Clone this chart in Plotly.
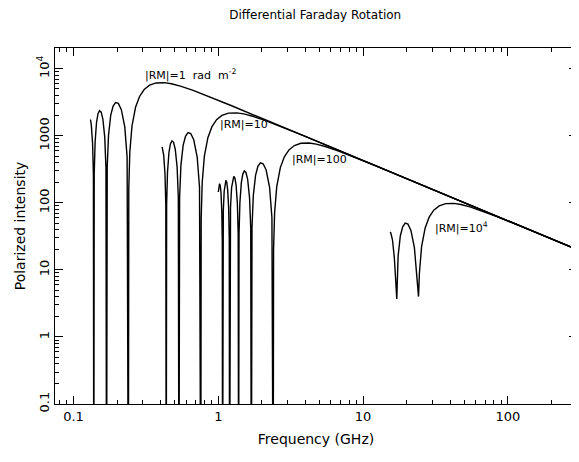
import math
import plotly.graph_objects as go

# ---- data (frequency in GHz, polarized intensity) ----
# near-zero values (1e-3) mark the depolarization nulls that drop below the axis
nu_rm1 = [0.1310, 0.1327, 0.1354, 0.1372, 0.1381,
          0.1390, 0.1410, 0.1442, 0.1476, 0.1513, 0.1552, 0.1595, 0.1643, 0.1675, 0.1691,
          0.1709, 0.1745, 0.1808, 0.1877, 0.1953, 0.2040, 0.2139, 0.2260, 0.2345, 0.2392,
          0.2408, 0.2448, 0.2534, 0.2682, 0.2858, 0.3076, 0.3352, 0.3719, 0.4240, 0.4740,
          0.5473, 0.6703, 0.8479, 1.224, 300.0]
p_rm1 = [1753, 1453, 773.5, 267.1, 1e-3,
         271.1, 808.2, 1592, 2135, 2374, 2256, 1779, 956.4, 332.6, 1e-3,
         339.9, 1022, 2043, 2780, 3144, 3047, 2457, 1359, 481.9, 1e-3,
         164.7, 568.6, 1402, 2667, 3865, 4903, 5691, 6152, 6205, 5980,
         5514, 4752, 3910, 2833, 20.1]

nu_rm10 = [0.4091, 0.4196, 0.4282, 0.4339, 0.4367,
           0.4396, 0.4458, 0.4561, 0.4668, 0.4784, 0.4908, 0.5042, 0.5195, 0.5296, 0.5348,
           0.5403, 0.5517, 0.5718, 0.5934, 0.6177, 0.6450, 0.6765, 0.7147, 0.7417, 0.7564,
           0.7615, 0.7741, 0.8012, 0.8480, 0.9039, 0.9727, 1.060, 1.176, 1.3407, 1.499,
           1.731, 2.120, 2.681, 3.871, 300.0]
p_rm10 = [686.0, 515.4, 274.4, 94.75, 1e-3,
          96.17, 286.7, 564.8, 757.3, 842.1, 800.2, 631.0, 339.3, 118.0, 1e-3,
          120.6, 362.6, 724.6, 986.2, 1115, 1081, 871.7, 482.1, 171.0, 1e-3,
          58.42, 201.7, 497.3, 946.2, 1371, 1739, 2019, 2183, 2201, 2122,
          1956, 1686, 1387, 1005, 20.1]

nu_rm100 = [1.0001, 1.0086, 1.0201, 1.0319, 1.0438, 1.0570, 1.0654, 1.0697,
            1.0739, 1.0828, 1.0977, 1.1121, 1.1278, 1.1434, 1.1604, 1.1786, 1.1901, 1.1960,
            1.2020, 1.2143, 1.2350, 1.2562, 1.2787, 1.3020, 1.3270, 1.3542, 1.3720, 1.3809,
            1.3902, 1.4097, 1.4423, 1.4763, 1.5127, 1.5522, 1.5946, 1.6429, 1.6747, 1.6912,
            1.7086, 1.7446, 1.8082, 1.8765, 1.9532, 2.0397, 2.1394, 2.2602, 2.3454, 2.3920,
            2.4081, 2.4480, 2.5336, 2.6816, 2.8584, 3.0759, 3.3519, 3.7186, 4.2397, 4.7400,
            5.4735, 6.7034, 8.4794, 12.240, 300.0]
p_rm100 = [145.2, 176.7, 193.7, 181.1, 140.5, 74.13, 25.46, 1e-3,
           25.69, 76.11, 148.4, 196.7, 216.2, 202.9, 157.8, 83.56, 28.74, 1e-3,
           29.06, 86.32, 169.1, 224.9, 248.2, 233.9, 182.8, 97.35, 33.61, 1e-3,
           34.11, 101.7, 200.4, 268.7, 298.7, 283.9, 223.8, 120.4, 41.86, 1e-3,
           42.78, 128.6, 257.1, 349.9, 395.6, 383.4, 309.2, 171.0, 60.65, 1e-3,
           20.72, 71.56, 176.4, 335.7, 486.4, 617.0, 716.1, 774.2, 780.9, 752.6,
           693.9, 598.0, 492.1, 356.5, 20.1]

nu_rm1e4 = [15.40, 15.52, 15.95, 16.43, 17.08,
            17.45, 18.08, 18.76, 19.53, 20.40, 21.39, 22.60, 24.14,
            24.48, 25.34, 26.82, 28.58, 30.76, 33.52, 37.19, 42.40, 47.40,
            54.73, 67.03, 84.79, 122.4, 300.0]
p_rm1e4 = [36.9, 35.73, 28.17, 15.15, 3.7,
           16.19, 32.35, 44.03, 49.79, 48.26, 38.92, 21.53, 4.0,
           9.0, 22.20, 42.25, 61.21, 77.66, 90.13, 97.45, 98.29, 94.72,
           87.33, 75.27, 61.94, 44.87, 20.1]

labels = ["|RM|=1  rad  m<sup>-2</sup>", "|RM|=10", "|RM|=100", "|RM|=10<sup>4</sup>"]
label_nu = [0.30, 1.0, 3.14, 30.5]
label_p = [8100, 1490, 445, 43.6]

x_tickvals = [0.1, 1, 10, 100]
x_ticktext = ["0.1", "1", "10", "100"]
y_tickvals = [0.1, 1, 10, 100, 1000, 10000]
y_ticktext = ["0.1", "1", "10", "100", "1000", "10<sup>4</sup>"]

FONT = "DejaVu Sans"

fig = go.Figure()
for nu, p in [(nu_rm1, p_rm1), (nu_rm10, p_rm10), (nu_rm100, p_rm100), (nu_rm1e4, p_rm1e4)]:
    fig.add_trace(go.Scatter(x=nu, y=p, mode="lines",
                             line=dict(color="black", width=1.4),
                             showlegend=False, hoverinfo="skip"))

for t, xv, yv in zip(labels, label_nu, label_p):
    fig.add_annotation(x=math.log10(xv), y=math.log10(yv), xref="x", yref="y",
                       text=t, showarrow=False, xanchor="left", yanchor="middle",
                       font=dict(family=FONT, size=11, color="black"))

x_minor = [m * 10 ** d for d in range(-2, 3) for m in range(2, 10)]
y_minor = [m * 10 ** d for d in range(-2, 5) for m in range(2, 10)]

fig.update_xaxes(type="log", range=[math.log10(0.0745), math.log10(300)], automargin=False,
                 tickmode="array", tickvals=x_tickvals, ticktext=x_ticktext,
                 ticks="inside", ticklen=8, tickcolor="black", tickwidth=1,
                 minor=dict(tickmode="array", tickvals=x_minor, ticks="inside",
                            ticklen=4, tickcolor="black", showgrid=False),
                 showline=True, linecolor="black", linewidth=1, mirror="allticks",
                 showgrid=False, zeroline=False,
                 title=dict(text="Frequency (GHz)", font=dict(family=FONT, size=14, color="black"),
                            standoff=11),
                 tickfont=dict(family=FONT, size=13, color="black"))
fig.update_yaxes(type="log", range=[-1, 4.31], automargin=False,
                 tickmode="array", tickvals=y_tickvals, ticktext=y_ticktext,
                 ticks="inside", ticklen=8, tickcolor="black", tickwidth=1, tickangle=-90,
                 minor=dict(tickmode="array", tickvals=y_minor, ticks="inside",
                            ticklen=4, tickcolor="black", showgrid=False),
                 showline=True, linecolor="black", linewidth=1, mirror="allticks",
                 showgrid=False, zeroline=False,
                 title=dict(text="Polarized intensity", font=dict(family=FONT, size=14, color="black"),
                            standoff=6),
                 tickfont=dict(family=FONT, size=13, color="black"))

# the page adds an 8 px body margin, so the figure is sized to fill the rest of the window
fig.update_layout(width=571, height=454,
                  margin=dict(l=47, r=2, t=40, b=58),
                  paper_bgcolor="white", plot_bgcolor="white",
                  title=dict(text="Differential Faraday Rotation", x=0.538, xanchor="center",
                             y=0.985, yanchor="middle",
                             font=dict(family=FONT, size=12, color="black")))

fig.write_html("out.html")
